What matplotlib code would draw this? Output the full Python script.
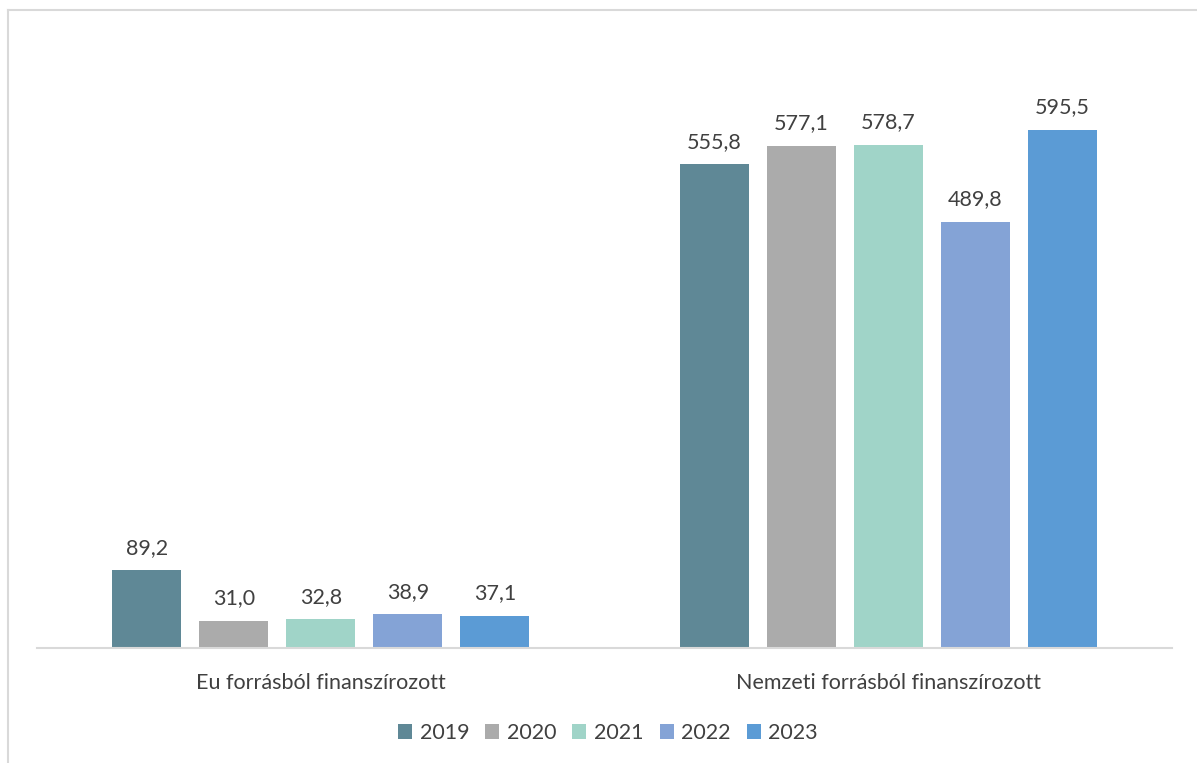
import matplotlib
matplotlib.use("Agg")
import matplotlib.pyplot as plt
import numpy as np
from matplotlib.lines import Line2D

categories = ['Eu forrásból finanszírozott', 'Nemzeti forrásból finanszírozott']
years = ['2019', '2020', '2021', '2022', '2023']
values_2019 = [89.2, 555.8]
values_2020 = [31.0, 577.1]
values_2021 = [32.8, 578.7]
values_2022 = [38.9, 489.8]
values_2023 = [37.1, 595.5]
series = [values_2019, values_2020, values_2021, values_2022, values_2023]
colors = ['#5F8896', '#ABABAB', '#A0D4C8', '#84A3D6', '#5B9BD5']

plt.rcParams['font.family'] = ['Lato', 'DejaVu Sans']
W, H = 1197, 763
fig = plt.figure(figsize=(W / 100, H / 100), dpi=100)
ax = fig.add_axes([37 / W, (H - 648) / H, (1172 - 37) / W, (648 - 39) / H])

x = np.arange(len(categories))
width = 0.1216
step = 0.1533
for i, (yr, vals, c) in enumerate(zip(years, series, colors)):
    pos = x + (i - 2) * step
    bars = ax.bar(pos, vals, width=width, color=c, label=yr, zorder=2)
    for b, v in zip(bars, vals):
        ax.annotate(f"{v:.1f}".replace('.', ','), (b.get_x() + b.get_width() / 2, v),
                    xytext=(0, 9), textcoords='offset points', ha='center', va='bottom',
                    fontsize=15.5, color='#404040')

ax.set_xlim(-0.5, 1.5)
ax.set_ylim(0, 700)
for s in ['top', 'right', 'left']:
    ax.spines[s].set_visible(False)
ax.spines['bottom'].set_color('#D9D9D9')
ax.spines['bottom'].set_linewidth(1.5)
ax.set_yticks([])
ax.set_xticks(x)
ax.set_xticklabels(categories, fontsize=15.5, color='#404040')
ax.tick_params(axis='x', length=0, pad=18)

leg = fig.legend(loc='center', bbox_to_anchor=(608 / W, 1 - 733 / H), ncol=5, frameon=False,
                 fontsize=15.5, handlelength=0.65, handleheight=0.65, handletextpad=0.35,
                 columnspacing=0.75)
for t in leg.get_texts():
    t.set_color('#404040')

# chart frame (right and bottom edges fall outside the image)
fig.add_artist(Line2D([7.5 / W, 7.5 / W], [0, 1 - 10 / H], color='#D9D9D9', lw=1.5, transform=fig.transFigure))
fig.add_artist(Line2D([7.5 / W, 1], [1 - 10 / H, 1 - 10 / H], color='#D9D9D9', lw=1.5, transform=fig.transFigure))

fig.savefig('out.png', dpi=100)
